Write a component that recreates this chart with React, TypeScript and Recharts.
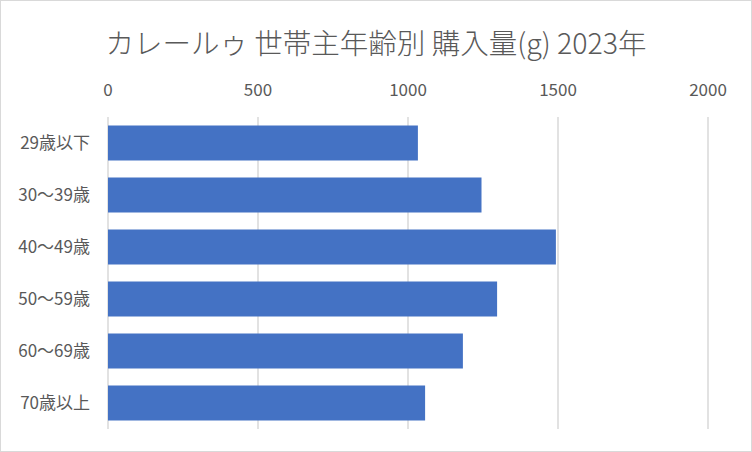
import { BarChart, Bar, XAxis, YAxis, CartesianGrid } from "recharts";

const categories = ["29歳以下", "30～39歳", "40～49歳", "50～59歳", "60～69歳", "70歳以上"];
const amounts = [1033, 1245, 1493, 1297, 1183, 1057];
const xTicks = [0, 500, 1000, 1500, 2000];

const data = categories.map((name, i) => ({ name, value: amounts[i] }));

const FONT = '"Noto Sans CJK JP", "Noto Sans", sans-serif';
const TEXT = "#595959";

export default function App() {
  return (
    <div
      style={{
        position: "absolute",
        top: 0,
        left: 0,
        width: 750,
        height: 450,
        border: "1px solid #d9d9d9",
        background: "#fff",
        fontFamily: FONT,
      }}
    >
      <div
        style={{
          position: "absolute",
          top: 21,
          left: 0,
          width: 750,
          textAlign: "center",
          fontSize: 28.5,
          fontWeight: 300,
          color: TEXT,
          lineHeight: "40px",
        }}
      >
        カレールゥ 世帯主年齢別 購入量(g) 2023年
      </div>
      <BarChart
        width={750}
        height={450}
        data={data}
        layout="vertical"
        barCategoryGap="16.5%"
        margin={{ top: 76, right: 43, bottom: 22, left: 0 }}
      >
        <CartesianGrid horizontal={false} stroke="#d9d9d9" strokeWidth={1.5} />
        <XAxis
          type="number"
          orientation="top"
          domain={[0, 2000]}
          ticks={xTicks}
          axisLine={false}
          tickLine={false}
          height={40}
          tickMargin={15}
          tick={{ fill: TEXT, fontSize: 17, fontFamily: FONT }}
        />
        <YAxis
          type="category"
          dataKey="name"
          width={107}
          axisLine={false}
          tickLine={false}
          tickMargin={12}
          tick={{ fill: TEXT, fontSize: 17, fontFamily: FONT }}
        />
        <Bar dataKey="value" fill="#4472C4" isAnimationActive={false} />
      </BarChart>
    </div>
  );
}
